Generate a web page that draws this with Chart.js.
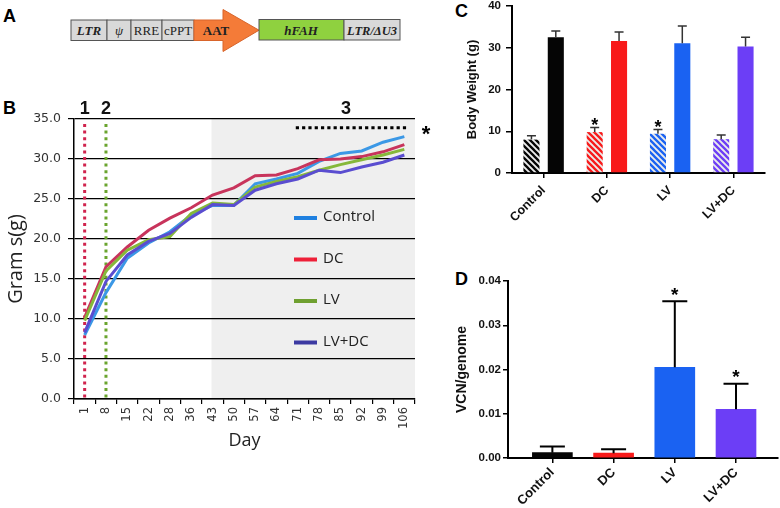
<!DOCTYPE html>
<html>
<head>
<meta charset="utf-8">
<script src="https://cdn.jsdelivr.net/npm/chart.js@4.4.1/dist/chart.umd.min.js"></script>
<style>
body { margin:0; background:#fff; }
#page { position:relative; width:780px; height:508px; overflow:hidden; font-family:"Liberation Sans", Arial, sans-serif; }
.panel { position:absolute; font-weight:bold; font-size:18px; color:#000; line-height:20px; }
canvas { position:absolute; }
</style>
</head>
<body>
<div id="page">
  <div class="panel" style="left:3px;top:6px">A</div>
  <svg style="position:absolute;left:0;top:0" width="420" height="60">
    <g font-family="Liberation Serif, Times New Roman, serif" font-size="13" text-anchor="middle" fill="#222">
      <rect x="71" y="20" width="36" height="20.5" fill="#d9d9d9" stroke="#555"/>
      <rect x="107" y="20" width="24" height="20.5" fill="#d9d9d9" stroke="#555"/>
      <rect x="131" y="20" width="31" height="20.5" fill="#d9d9d9" stroke="#555"/>
      <rect x="162" y="20" width="32" height="20.5" fill="#d9d9d9" stroke="#555"/>
      <polygon points="194,20 223,20 223,9.5 259,30.2 223,51.5 223,40.5 194,40.5" fill="#f47b38" stroke="#d8642a"/>
      <rect x="259" y="19.5" width="85" height="20.5" fill="#8fd13f" stroke="#555"/>
      <rect x="344" y="19.5" width="56" height="20.5" fill="#d9d9d9" stroke="#555"/>
      <text x="89" y="35" font-weight="bold" font-style="italic">LTR</text>
      <text x="119" y="35" font-style="italic">ψ</text>
      <text x="146.5" y="35">RRE</text>
      <text x="178" y="35">cPPT</text>
      <text x="216" y="35" font-weight="bold">AAT</text>
      <text x="301" y="34.5" font-weight="bold" font-style="italic">hFAH</text>
      <text x="372" y="34.5" font-weight="bold" font-style="italic" font-size="12.5">LTR/ΔU3</text>
    </g>
  </svg>
  <div class="panel" style="left:3px;top:98px">B</div>
  <div class="panel" style="left:455px;top:1px">C</div>
  <div class="panel" style="left:455px;top:269px">D</div>
  <canvas id="chartB" width="440" height="460" style="left:0;top:0"></canvas>
  <canvas id="chartC" width="360" height="225" style="left:420px;top:0"></canvas>
  <canvas id="chartD" width="360" height="248" style="left:420px;top:260px"></canvas>
</div>
<script>
// ---- Panel B : weight curves
const days = ['1','8','15','22','28','36','43','50','57','64','71','78','85','92','99','106'];
const controlWeight = [8.0, 13.3, 17.6, 19.5, 20.9, 23.0, 24.2, 24.2, 26.9, 27.5, 28.2, 29.7, 30.7, 31.0, 32.1, 32.8];
const dcWeight      = [10.2, 16.5, 19.0, 21.1, 22.6, 23.9, 25.5, 26.4, 27.9, 28.0, 28.8, 29.9, 30.0, 30.3, 30.9, 31.8];
const lvWeight      = [9.8, 16.0, 18.6, 19.9, 20.3, 23.2, 24.5, 24.3, 26.5, 27.2, 27.8, 28.6, 29.3, 29.9, 30.5, 31.2];
const lvdcWeight    = [8.3, 14.7, 18.0, 19.7, 20.7, 22.7, 24.3, 24.2, 26.1, 26.9, 27.5, 28.6, 28.3, 29.0, 29.6, 30.5];
const seriesNames = ['Control', 'DC', 'LV', 'LV+DC'];
const markerDays = ['1', '8'];
const markerLabels = ['1', '2'];
const bandStartDay = '43';
const sigStartDay = '71';
const sigEndDay = '106';
const sigLevel = 33.9;
const weightTicks = [0, 5, 10, 15, 20, 25, 30, 35];

// ---- Panel C : body weight bars
const groups = ['Control', 'DC', 'LV', 'LV+DC'];
const youngWeight = [8.0, 9.8, 9.4, 8.1];
const youngErr    = [0.9, 1.1, 1.0, 1.0];
const youngSig    = [false, true, true, false];
const adultWeight = [32.5, 31.6, 31.1, 30.3];
const adultErr    = [1.5, 2.2, 4.1, 2.2];
const adultSig    = [false, false, false, false];

// ---- Panel D : VCN
const vcnMean = [0.0012, 0.0011, 0.0205, 0.0110];
const vcnErr  = [0.0014, 0.0009, 0.0149, 0.0058];
const vcnSig  = [false, false, true, true];

const lineColors   = ['#3b98e6', '#c8345c', '#86b83a', '#5a4dd0'];
const legendColors = ['#1f80e0', '#ee2038', '#6fa030', '#3c3aa2'];
const barColors    = ['#050505', '#f81a1a', '#1a62f2', '#6c3ef6'];

function noPad(scale) {
  scale.paddingLeft = 0; scale.paddingRight = 0; scale.paddingTop = 0; scale.paddingBottom = 0;
}

function drawStar(ctx, x, centerY, size) {
  ctx.font = 'bold ' + size + 'px "Liberation Sans", Arial';
  ctx.textAlign = 'center';
  ctx.textBaseline = 'alphabetic';
  ctx.fillStyle = '#000';
  ctx.fillText('*', x, centerY + size * 0.57);
}

// gray band behind the grid
const bandPlugin = {
  id: 'band',
  beforeDraw(chart) {
    const {ctx, chartArea: a, scales: {x}} = chart;
    const x0 = x.getPixelForValue(days.indexOf(bandStartDay)) - 1;
    ctx.save();
    ctx.fillStyle = '#efefef';
    ctx.fillRect(x0, a.top, a.right - x0, a.bottom - a.top);
    ctx.restore();
  }
};

// dotted treatment markers
const markerPlugin = {
  id: 'markers',
  beforeDatasetsDraw(chart) {
    const {ctx, chartArea: a, scales: {x}} = chart;
    const cols = ['#d0234d', '#6aa42e'];
    ctx.save();
    ctx.lineWidth = 3;
    ctx.setLineDash([3, 3.6]);
    markerDays.forEach((d, i) => {
      const px = x.getPixelForValue(days.indexOf(d));
      ctx.strokeStyle = cols[i];
      ctx.beginPath();
      ctx.moveTo(px, a.top + 5);
      ctx.lineTo(px, a.bottom);
      ctx.stroke();
    });
    ctx.restore();
  },
  afterDatasetsDraw(chart) {
    const {ctx, chartArea: a, scales: {x, y}} = chart;
    ctx.save();
    ctx.fillStyle = '#111';
    ctx.font = 'bold 18px "Liberation Sans", Arial';
    ctx.textAlign = 'center';
    ctx.textBaseline = 'middle';
    markerDays.forEach((d, i) => {
      ctx.fillText(markerLabels[i], x.getPixelForValue(days.indexOf(d)), a.top - 10);
    });
    const s0 = x.getPixelForValue(days.indexOf(sigStartDay)) - 2;
    const s1 = x.getPixelForValue(days.indexOf(sigEndDay)) + 4;
    ctx.fillText('3', (s0 + s1) / 2 - 6, a.top - 10);
    ctx.strokeStyle = '#000';
    ctx.lineWidth = 3;
    ctx.setLineDash([3.2, 3.1]);
    const sy = y.getPixelForValue(sigLevel);
    ctx.beginPath();
    ctx.moveTo(s0, sy);
    ctx.lineTo(s1, sy);
    ctx.stroke();
    ctx.setLineDash([]);
    drawStar(ctx, a.right + 11, sy + 1, 22);

    // legend
    const lx = a.left + 220, ly = a.top + 99, step = 41.5;
    ctx.font = '15px "Open Sans", sans-serif';
    ctx.textAlign = 'left';
    ctx.textBaseline = 'middle';
    seriesNames.forEach((n, i) => {
      ctx.strokeStyle = legendColors[i];
      ctx.lineWidth = 4;
      ctx.beginPath();
      ctx.moveTo(lx, ly + i * step);
      ctx.lineTo(lx + 23, ly + i * step);
      ctx.stroke();
      ctx.fillStyle = '#222';
      ctx.fillText(n, lx + 29, ly + i * step - 1);
    });
    ctx.restore();
  }
};

new Chart(document.getElementById('chartB'), {
  type: 'line',
  data: {
    labels: days,
    datasets: [controlWeight, dcWeight, lvWeight, lvdcWeight].map((d, i) => ({
      label: seriesNames[i],
      data: d,
      borderColor: lineColors[i],
      borderWidth: 3,
      pointRadius: 0,
      tension: 0,
      order: 4 - i
    }))
  },
  options: {
    responsive: false,
    animation: false,
    layout: { padding: { top: 119, right: 25, left: 0, bottom: 8 } },
    plugins: { legend: { display: false }, tooltip: { enabled: false } },
    scales: {
      x: {
        offset: true,
        grid: { offset: true, drawOnChartArea: false, tickLength: 5, color: '#000', lineWidth: 1.2 },
        border: { color: '#000', width: 1.5 },
        ticks: { minRotation: 90, maxRotation: 90, autoSkip: false, padding: 3, color: '#333',
                 font: { family: 'DejaVu Sans', size: 11.5 } },
        title: { display: true, text: 'Day', color: '#222', padding: 0,
                 font: { family: 'Open Sans', size: 18 } },
        afterFit(s) { s.height = 53; noPad(s); }
      },
      y: {
        min: 0, max: 35,
        afterBuildTicks(s) { s.ticks = weightTicks.map(v => ({ value: v })); },
        grid: { color: '#000', lineWidth: 1.2, tickLength: 6 },
        border: { color: '#000', width: 1.5 },
        ticks: { padding: 7, color: '#333', callback: v => v.toFixed(1),
                 font: { family: 'DejaVu Sans', size: 12.5 } },
        title: { display: true, text: 'Gram s(g)', color: '#222', padding: { top: 4, bottom: 0 },
                 font: { family: 'Open Sans', size: 20 } },
        afterFit(s) { s.width = 74; noPad(s); }
      }
    }
  },
  plugins: [bandPlugin, markerPlugin]
});

// ---- hatch fill
function hatch(color) {
  const c = document.createElement('canvas');
  c.width = 6; c.height = 6;
  const g = c.getContext('2d');
  g.fillStyle = '#ebebeb';
  g.fillRect(0, 0, 6, 6);
  g.strokeStyle = color;
  g.lineWidth = 2.3;
  g.beginPath();
  g.moveTo(-1, -1); g.lineTo(7, 7);
  g.moveTo(-1, 5); g.lineTo(1, 7);
  g.moveTo(5, -1); g.lineTo(7, 1);
  g.stroke();
  return g.createPattern(c, 'repeat');
}

const errorBars = {
  id: 'errorBars',
  afterDatasetsDraw(chart, args, opts) {
    const {ctx, scales: {y}} = chart;
    ctx.save();
    chart.data.datasets.forEach((ds, di) => {
      const meta = chart.getDatasetMeta(di);
      meta.data.forEach((bar, i) => {
        const raw = ds.data[i];
        const v = typeof raw === 'object' ? raw.y : raw;
        const top = y.getPixelForValue(v + ds.err[i]);
        ctx.strokeStyle = opts.color;
        ctx.lineWidth = opts.width;
        ctx.beginPath();
        ctx.moveTo(bar.x, bar.y);
        ctx.lineTo(bar.x, top);
        ctx.moveTo(bar.x - opts.cap / 2, top);
        ctx.lineTo(bar.x + opts.cap / 2, top);
        ctx.stroke();
        if (ds.sig[i]) drawStar(ctx, bar.x, top - opts.starGap, opts.starSize);
      });
    });
    ctx.restore();
  }
};

const prismTick = { family: 'Liberation Sans', weight: 'bold' };

new Chart(document.getElementById('chartC'), {
  type: 'bar',
  data: {
    labels: groups,
    datasets: [
      { data: youngWeight, err: youngErr, sig: youngSig, backgroundColor: barColors.map(hatch),
        barPercentage: 0.66, categoryPercentage: 0.77 },
      { data: adultWeight, err: adultErr, sig: adultSig, backgroundColor: barColors,
        barPercentage: 0.66, categoryPercentage: 0.77 }
    ]
  },
  options: {
    responsive: false,
    animation: false,
    layout: { padding: { top: 6, right: 15, left: 0, bottom: 0 } },
    plugins: { legend: { display: false }, tooltip: { enabled: false },
               errorBars: { color: '#333', width: 1.5, cap: 9, starGap: 7, starSize: 18 } },
    scales: {
      x: {
        offset: true,
        grid: { offset: false, drawOnChartArea: false, tickLength: 5, color: '#000', lineWidth: 1.5 },
        border: { color: '#000', width: 2 },
        ticks: { minRotation: 45, maxRotation: 45, padding: 5, color: '#111',
                 font: { ...prismTick, size: 12.5 } },
        afterFit(s) { s.height = 52; noPad(s); }
      },
      y: {
        min: 0, max: 40,
        ticks: { stepSize: 10, padding: 5, color: '#111', font: { ...prismTick, size: 11.5 } },
        grid: { drawOnChartArea: false, tickLength: 6, color: '#000', lineWidth: 1.5 },
        border: { color: '#000', width: 2 },
        title: { display: true, text: 'Body Weight (g)', color: '#111', padding: { top: 45, bottom: 0 },
                 font: { ...prismTick, size: 13 } },
        afterFit(s) { s.width = 92; noPad(s); }
      }
    }
  },
  plugins: [errorBars]
});

new Chart(document.getElementById('chartD'), {
  type: 'bar',
  data: {
    datasets: [
      { data: vcnMean.map((v, i) => ({ x: i, y: v })), err: vcnErr, sig: vcnSig,
        backgroundColor: barColors, barThickness: 40 }
    ]
  },
  options: {
    responsive: false,
    animation: false,
    layout: { padding: { top: 21, right: 2, left: 0, bottom: 0 } },
    plugins: { legend: { display: false }, tooltip: { enabled: false },
               errorBars: { color: '#000', width: 2, cap: 25, starGap: 11, starSize: 19 } },
    scales: {
      x: {
        type: 'linear',
        offset: false,
        min: -0.725, max: 3.686,
        afterBuildTicks(s) { s.ticks = groups.map((g, i) => ({ value: i })); },
        grid: { offset: false, drawOnChartArea: false, tickLength: 5, color: '#000', lineWidth: 1.5 },
        border: { color: '#000', width: 2 },
        ticks: { minRotation: 45, maxRotation: 45, autoSkip: false, padding: 2, color: '#111',
                 callback: v => groups[v], font: { ...prismTick, size: 13 } },
        afterFit(s) { s.height = 50; noPad(s); }
      },
      y: {
        min: 0, max: 0.04,
        ticks: { stepSize: 0.01, padding: 2, color: '#111', callback: v => v.toFixed(2),
                 font: { ...prismTick, size: 11.5 } },
        grid: { drawOnChartArea: false, tickLength: 5, color: '#000', lineWidth: 1.5 },
        border: { color: '#000', width: 2 },
        title: { display: true, text: 'VCN/genome', color: '#111', padding: { top: 34, bottom: 0 },
                 font: { ...prismTick, size: 14 } },
        afterFit(s) { s.width = 88; noPad(s); }
      }
    }
  },
  plugins: [errorBars]
});
</script>
</body>
</html>
